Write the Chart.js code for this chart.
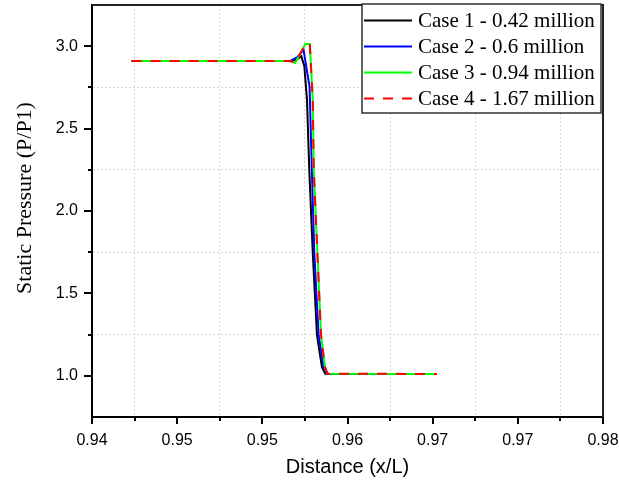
<!DOCTYPE html>
<html>
<head>
<meta charset="utf-8">
<title>Static Pressure</title>
<script src="https://cdn.jsdelivr.net/npm/chart.js@4.4.0/dist/chart.umd.min.js"></script>
<style>
  body { margin: 0; background: #fff; }
  canvas { display: block; }
</style>
</head>
<body>
<canvas id="pressureChart" width="619" height="486"></canvas>
<script>
const caseLabels = ['Case 1 - 0.42 million', 'Case 2 - 0.6 million', 'Case 3 - 0.94 million', 'Case 4 - 1.67 million'];

const case1X = [0.9431, 0.9555, 0.9560, 0.95638, 0.95662, 0.95683, 0.95701, 0.95728, 0.95761, 0.95800, 0.95826, 0.9670];
const case1Y = [2.91, 2.91, 2.918, 2.940, 2.880, 2.673, 2.248, 1.750, 1.246, 1.052, 1.013, 1.011];

const case2X = [0.9431, 0.9555, 0.95607, 0.95656, 0.95703, 0.95721, 0.95740, 0.95774, 0.95813, 0.95838, 0.9670];
const case2Y = [2.91, 2.91, 2.934, 2.977, 2.754, 2.248, 1.750, 1.246, 1.052, 1.013, 1.011];

const case3X = [0.9431, 0.9555, 0.95591, 0.95670, 0.95705, 0.95728, 0.95736, 0.95764, 0.95793, 0.95824, 0.95844, 0.9670];
const case3Y = [2.91, 2.91, 2.898, 3.013, 3.013, 2.673, 2.248, 1.750, 1.246, 1.052, 1.013, 1.011];

const case4X = [0.9431, 0.9555, 0.95591, 0.95670, 0.95705, 0.95728, 0.95736, 0.95764, 0.95793, 0.95824, 0.95844, 0.9670];
const case4Y = [2.91, 2.91, 2.898, 3.013, 3.013, 2.673, 2.248, 1.750, 1.246, 1.052, 1.013, 1.011];

// labels as printed on the original axis (rounded to 2 decimals)
const xTickLabels = ['0.94', '0.95', '0.95', '0.96', '0.97', '0.97', '0.98'];
const yTickLabels = ['1.0', '1.5', '2.0', '2.5', '3.0'];

const caseColors = ['#000000', '#0000ff', '#00ff00', '#ff0000'];

function toPoints(xs, ys) {
  return xs.map((x, i) => ({ x: x, y: ys[i] }));
}

const xMin = 0.94, xMax = 0.98, yMin = 0.75, yMax = 3.25;

function isMajorY(v) {
  return Math.abs(v * 2 - Math.round(v * 2)) < 1e-6;
}

// tick marks, frame, y title and legend
const decorations = {
  id: 'decorations',
  afterDraw(chart) {
    const ctx = chart.ctx;
    const area = chart.chartArea;
    const xs = chart.scales.x;
    const ys = chart.scales.y;

    ctx.save();
    ctx.strokeStyle = '#000';
    ctx.lineWidth = 2;
    ctx.beginPath();
    xs.ticks.forEach((t, i) => {
      const px = Math.round(xs.getPixelForValue(t.value));
      const len = i % 2 === 0 ? 7 : 4;
      ctx.moveTo(px, area.bottom);
      ctx.lineTo(px, area.bottom + len);
    });
    ys.ticks.forEach(t => {
      if (t.value <= yMin + 1e-6 || t.value >= yMax - 1e-6) return;
      const py = Math.round(ys.getPixelForValue(t.value));
      const len = isMajorY(t.value) ? 8 : 4;
      ctx.moveTo(area.left, py);
      ctx.lineTo(area.left - len, py);
    });
    ctx.stroke();

    ctx.strokeStyle = '#222';
    ctx.lineWidth = 2;
    ctx.beginPath();
    ctx.moveTo(area.left, area.top);
    ctx.lineTo(area.right, area.top);
    ctx.lineTo(area.right, area.bottom);
    ctx.stroke();

    ctx.translate(25, 198);
    ctx.rotate(-Math.PI / 2);
    ctx.fillStyle = '#000';
    ctx.font = '22px "Liberation Serif"';
    ctx.textAlign = 'center';
    ctx.textBaseline = 'middle';
    ctx.fillText('Static Pressure (P/P1)', 0, 0);
    ctx.restore();

    // legend box in the upper right corner
    ctx.save();
    const boxL = 362, boxT = 4, boxR = 601, boxB = 113;
    ctx.fillStyle = '#fff';
    ctx.fillRect(boxL, boxT, boxR - boxL, boxB - boxT);
    ctx.strokeStyle = '#333';
    ctx.lineWidth = 1.5;
    ctx.strokeRect(boxL, boxT, boxR - boxL, boxB - boxT);
    ctx.font = '21px "Liberation Serif"';
    ctx.textBaseline = 'middle';
    chart.data.datasets.forEach((ds, i) => {
      const rowY = 20.5 + i * 26;
      ctx.strokeStyle = ds.borderColor;
      ctx.lineWidth = 2;
      ctx.setLineDash(ds.borderDash || []);
      ctx.beginPath();
      ctx.moveTo(364, rowY);
      ctx.lineTo(412, rowY);
      ctx.stroke();
      ctx.setLineDash([]);
      ctx.fillStyle = '#000';
      ctx.fillText(ds.label, 418, rowY + 1);
    });
    ctx.restore();
  }
};

const datasets = [
  { label: caseLabels[0], data: toPoints(case1X, case1Y), borderColor: caseColors[0], order: 4 },
  { label: caseLabels[1], data: toPoints(case2X, case2Y), borderColor: caseColors[1], order: 3 },
  { label: caseLabels[2], data: toPoints(case3X, case3Y), borderColor: caseColors[2], order: 2 },
  { label: caseLabels[3], data: toPoints(case4X, case4Y), borderColor: caseColors[3], order: 1, borderDash: [10, 9] }
].map(ds => Object.assign({ borderWidth: 2, pointRadius: 0, tension: 0, fill: false }, ds));

new Chart(document.getElementById('pressureChart'), {
  type: 'line',
  data: { datasets: datasets },
  options: {
    responsive: false,
    animation: false,
    layout: { padding: { top: 5, right: 16, left: 0, bottom: 0 } },
    plugins: { legend: { display: false }, tooltip: { enabled: false } },
    scales: {
      x: {
        type: 'linear',
        min: xMin,
        max: xMax,
        afterBuildTicks(scale) {
          const ticks = [];
          for (let i = 0; i <= 12; i++) ticks.push({ value: xMin + (xMax - xMin) * i / 12 });
          scale.ticks = ticks;
        },
        afterFit(scale) {
          scale.height = 69;
          scale.paddingLeft = 0;
          scale.paddingRight = 0;
        },
        ticks: {
          autoSkip: false,
          maxRotation: 0,
          padding: 14,
          color: '#000',
          font: { family: '"Liberation Sans"', size: 16 },
          callback: (v, i) => (i % 2 === 0 ? xTickLabels[i / 2] : '')
        },
        grid: {
          drawTicks: false,
          lineWidth: 1,
          color: c => (c.index % 2 === 1 ? '#d8d8d8' : 'rgba(0,0,0,0)')
        },
        border: { display: true, color: '#000', width: 2, dash: [2, 2] },
        title: {
          display: true,
          text: 'Distance (x/L)',
          color: '#000',
          font: { family: '"Liberation Sans"', size: 20 },
          padding: { top: 0, bottom: 7 }
        }
      },
      y: {
        min: yMin,
        max: yMax,
        afterFit(scale) {
          scale.width = 92;
          scale.paddingTop = 0;
          scale.paddingBottom = 0;
        },
        ticks: {
          stepSize: 0.25,
          padding: 14,
          color: '#000',
          font: { family: '"Liberation Sans"', size: 16 },
          callback: v => (isMajorY(v) && v > yMin && v < yMax ? yTickLabels[Math.round((v - 1) * 2)] : '')
        },
        grid: {
          drawTicks: false,
          lineWidth: 1,
          color: c => (c.tick && !isMajorY(c.tick.value) && c.tick.value > yMin && c.tick.value < yMax ? '#d8d8d8' : 'rgba(0,0,0,0)')
        },
        border: { display: true, color: '#000', width: 2, dash: [2, 2] }
      }
    }
  },
  plugins: [decorations]
});
</script>
</body>
</html>
